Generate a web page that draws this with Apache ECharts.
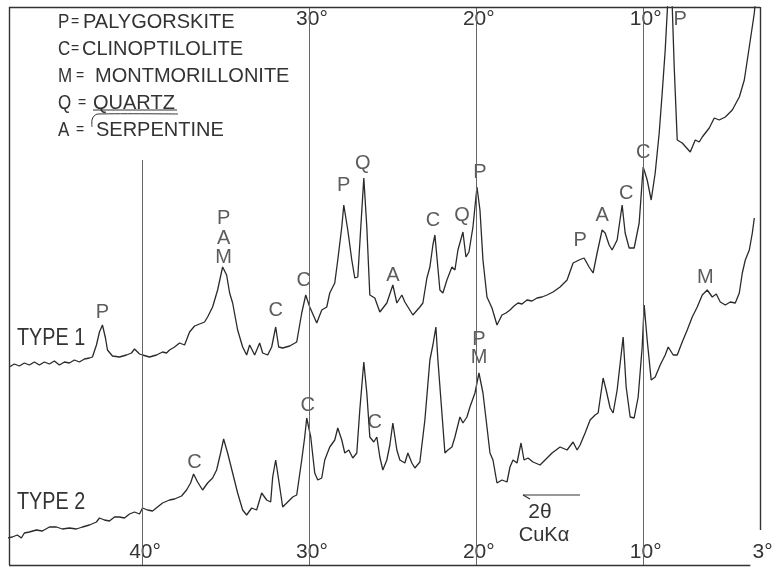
<!DOCTYPE html>
<html><head><meta charset="utf-8">
<script src="https://cdn.jsdelivr.net/npm/echarts@6/dist/echarts.min.js"></script>
<style>html,body{margin:0;padding:0;background:#fff}#c{width:772px;height:567px}</style>
</head><body><div id="c"></div>
<script>
// 2-theta (degrees) , relative intensity
const type1 = [
[47.98,198],[47.68,201],[47.38,199],[47.08,202],[46.78,200],[46.48,203],[46.18,200],[45.88,203],[45.58,201],[45.28,204],[44.98,200],[44.68,203],[44.38,202],[44.08,205],[43.78,203],[43.48,206],[43.18,207],[43.00,208],[42.76,220],[42.58,233],[42.40,240],[42.22,227],[42.10,215],[41.80,209],[41.38,208],[40.96,210],[40.66,212],[40.48,216],[40.18,211],[40.00,210],[39.58,208],[39.16,210],[38.80,213],[38.56,212],[38.38,215],[38.08,218],[37.78,222],[37.48,220],[37.18,233],[36.88,239],[36.58,241],[36.28,243],[36.10,248],[35.80,258],[35.50,275],[35.20,298],[34.96,290],[34.78,272],[34.60,262],[34.30,235],[34.00,218],[33.76,210],[33.58,220],[33.28,210],[32.98,222],[32.80,212],[32.50,210],[32.26,218],[32.02,238],[31.84,218],[31.60,217],[31.18,219],[30.76,223],[30.46,252],[30.22,270],[29.98,258],[29.56,242],[29.26,255],[28.96,258],[28.78,272],[28.48,282],[28.30,305],[28.06,338],[27.94,360],[27.70,335],[27.46,305],[27.28,287],[27.10,288],[26.92,338],[26.74,387],[26.56,338],[26.38,270],[26.08,267],[25.78,253],[25.36,262],[25.00,280],[24.76,262],[24.46,270],[24.28,263],[23.80,250],[23.38,258],[23.20,262],[22.96,287],[22.78,298],[22.60,320],[22.48,330],[22.36,308],[22.18,275],[22.00,272],[21.76,285],[21.46,298],[21.28,295],[21.10,315],[20.80,333],[20.62,308],[20.44,313],[20.20,338],[19.96,378],[19.78,355],[19.60,305],[19.36,268],[19.06,257],[18.76,240],[18.46,250],[18.22,252],[17.98,255],[17.74,259],[17.50,262],[17.26,261],[16.96,265],[16.66,264],[16.36,267],[16.06,268],[15.76,270],[15.40,273],[14.98,278],[14.56,285],[14.20,302],[13.84,305],[13.54,307],[13.24,298],[13.00,292],[12.76,312],[12.46,335],[12.28,332],[12.04,320],[11.86,315],[11.56,325],[11.26,360],[11.08,332],[10.84,317],[10.54,317],[10.24,342],[10.00,398],[9.76,385],[9.52,365],[9.28,392],[9.04,432],[8.86,472],[8.68,515],[8.44,590],[8.32,590],[8.14,498],[7.96,425],[7.66,422],[7.18,413],[6.88,425],[6.64,423],[6.46,428],[6.04,437],[5.74,447],[5.44,445],[5.08,448],[4.66,455],[4.24,468],[3.94,485],[3.76,505],[3.58,525],[3.34,552],[3.22,575]
];
const type2 = [
[48.10,27],[47.80,28],[47.50,30],[47.26,27],[47.08,32],[46.78,33],[46.36,35],[46.00,34],[45.58,38],[45.16,38],[44.80,36],[44.38,37],[43.96,36],[43.60,38],[43.18,40],[42.76,43],[42.58,47],[42.28,45],[41.98,44],[41.68,48],[41.38,48],[41.08,47],[40.78,51],[40.48,53],[40.18,51],[40.00,57],[39.70,55],[39.40,54],[39.10,58],[38.80,62],[38.38,65],[38.08,66],[37.66,69],[37.36,75],[37.12,82],[36.94,91],[36.70,83],[36.40,75],[36.10,82],[35.80,87],[35.56,95],[35.32,112],[35.14,126],[34.90,112],[34.60,92],[34.30,72],[34.00,55],[33.76,50],[33.46,57],[33.16,55],[32.86,72],[32.56,65],[32.32,63],[32.20,88],[32.02,105],[31.84,85],[31.60,58],[31.30,63],[31.00,68],[30.76,70],[30.46,105],[30.28,128],[30.16,147],[29.92,128],[29.68,92],[29.50,85],[29.26,87],[29.08,105],[28.78,118],[28.48,125],[28.30,137],[28.06,125],[27.88,112],[27.64,115],[27.40,107],[27.16,112],[26.98,155],[26.74,203],[26.56,172],[26.38,128],[26.14,123],[25.96,128],[25.78,108],[25.60,95],[25.36,105],[25.18,120],[25.00,142],[24.76,115],[24.58,105],[24.28,102],[24.10,112],[23.86,102],[23.68,97],[23.38,103],[23.08,145],[22.78,205],[22.60,220],[22.42,238],[22.30,205],[22.06,152],[21.88,112],[21.70,115],[21.46,118],[21.28,128],[20.98,148],[20.80,142],[20.56,148],[20.38,158],[20.08,172],[19.84,192],[19.60,172],[19.36,138],[19.18,112],[19.00,105],[18.76,82],[18.46,85],[18.16,83],[17.98,98],[17.80,105],[17.56,102],[17.32,122],[17.14,105],[16.90,107],[16.60,103],[16.18,100],[15.88,105],[15.46,112],[14.98,118],[14.56,115],[14.20,123],[13.96,115],[13.78,120],[13.48,132],[13.18,145],[12.88,150],[12.70,152],[12.40,187],[12.22,175],[11.98,157],[11.80,152],[11.56,175],[11.20,228],[11.02,178],[10.78,148],[10.54,147],[10.30,168],[10.06,218],[9.94,260],[9.76,225],[9.52,185],[9.28,188],[8.98,200],[8.68,210],[8.50,218],[8.20,210],[7.96,210],[7.66,223],[7.36,235],[7.06,248],[6.76,258],[6.46,270],[6.16,275],[5.86,268],[5.62,271],[5.38,263],[5.08,260],[4.78,263],[4.48,262],[4.24,272],[4.06,292],[3.88,305],[3.64,315],[3.46,332],[3.34,347]
];
// peak identification letters: [2theta, intensity, letter]
const peakLabels = [
[42.40,253,'P'],[35.14,347,'P'],[35.14,327,'A'],[35.14,308,'M'],[32.02,255,'C'],[30.34,285,'C'],
[27.94,380,'P'],[26.80,402,'Q'],[25.00,290,'A'],[22.60,345,'C'],[20.86,350,'Q'],[19.78,393,'P'],
[13.78,325,'P'],[12.46,350,'A'],[11.02,372,'C'],[10.00,413,'C'],[7.78,546,'P'],
[36.88,103,'C'],[30.10,160,'C'],[26.08,143,'C'],[19.84,226,'P'],[19.84,208,'M'],[6.28,288,'M']
];
const bottomTicks = [40,30,20,10,3];
const topTicks = [30,20,10];
const legendRows = [
  ['P','PALYGORSKITE'],['C','CLINOPTILOLITE'],['M','MONTMORILLONITE'],['Q','QUARTZ'],['A','SERPENTINE']
];
const traceNames = ['TYPE 1','TYPE 2'];

const FONT = '"Liberation Sans", Arial, sans-serif';
const INK = '#333';
const chart = echarts.init(document.getElementById('c'));

const legendLayout = [ // x of letter, '=', word ; y centre
  [58,71,83,22],[58,71,82,49],[58,76,95,76],[58,78,93,103],[58,76,96,130]
];
const graphic = [];
legendRows.forEach((r,i)=>{
  const L = legendLayout[i];
  graphic.push({type:'text',x:L[0],y:L[3],scaleX:0.85,style:{text:r[0],font:'20px '+FONT,fill:INK,verticalAlign:'middle'}});
  graphic.push({type:'text',x:L[1],y:L[3],style:{text:'=',font:'14px '+FONT,fill:INK,verticalAlign:'middle'}});
  graphic.push({type:'text',x:L[2],y:L[3],style:{text:r[1],font:'20px '+FONT,fill:INK,verticalAlign:'middle'}});
});
graphic.push({type:'polyline',shape:{points:[[93,110],[177,110]]},style:{stroke:INK,lineWidth:1.2}});
graphic.push({type:'polyline',shape:{points:[[178,114],[98,114],[94,116],[92,120],[92,127]],smooth:0.3},style:{stroke:INK,lineWidth:1,fill:null}});
graphic.push({type:'text',x:17,y:339,scaleX:0.86,style:{text:traceNames[0],font:'23px '+FONT,fill:INK,verticalAlign:'middle'}});
graphic.push({type:'text',x:17,y:503,scaleX:0.86,style:{text:traceNames[1],font:'23px '+FONT,fill:INK,verticalAlign:'middle'}});
graphic.push({type:'polyline',shape:{points:[[523,495],[580,495]]},style:{stroke:INK,lineWidth:1.2}});
graphic.push({type:'polyline',shape:{points:[[523,495],[530,499]]},style:{stroke:INK,lineWidth:1.2}});
graphic.push({type:'text',x:540,y:512,style:{text:'2θ',font:'21px '+FONT,fill:INK,align:'center',verticalAlign:'middle'}});
graphic.push({type:'text',x:544,y:535,style:{text:'CuKα',font:'20px '+FONT,fill:INK,align:'center',verticalAlign:'middle'}});

const seg = (a,b,style)=>[{coord:a,lineStyle:style},{coord:b}];
const gridStyle = {color:'#666',width:1,type:'solid'};
const frameStyle = {color:INK,width:1.4,type:'solid'};
const markLines = [
  seg([40,0],[40,405],gridStyle), seg([30,0],[30,558],gridStyle),
  seg([20,0],[20,558],gridStyle), seg([10,0],[10,558],gridStyle),
  seg([48,0],[48,558],frameStyle), seg([48,558],[3,558],frameStyle),
  seg([3,558],[3,35],frameStyle), seg([48,0],[3.58,0],frameStyle)
];

const lbl = (ticks)=>({inside:true,margin:2,customValues:ticks,formatter:v=>v+'°',fontSize:21,color:INK,fontFamily:FONT,padding:[0,0,0,5],showMinLabel:true,showMaxLabel:true});

chart.setOption({
  animation:false,
  grid:{left:9,right:12,top:7,bottom:2,containLabel:false,outerBoundsMode:'none'},
  xAxis:[
    {type:'value',min:3,max:48,inverse:true,position:'bottom',axisLine:{show:false},axisTick:{show:false},splitLine:{show:false},axisLabel:lbl(bottomTicks)},
    {type:'value',min:3,max:48,inverse:true,position:'top',axisLine:{show:false},axisTick:{show:false},splitLine:{show:false},axisLabel:lbl(topTicks)}
  ],
  yAxis:{type:'value',min:0,max:558,show:false},
  graphic:graphic,
  series:[
    {type:'line',name:'frame',data:[],silent:true,clip:false,
     markLine:{silent:true,symbol:['none','none'],label:{show:false},emphasis:{disabled:true},animation:false,data:markLines}},
    {type:'line',name:traceNames[0],data:type1,symbol:'none',clip:true,lineStyle:{color:'#2a2a2a',width:1.3},z:3},
    {type:'line',name:traceNames[1],data:type2,symbol:'none',clip:true,lineStyle:{color:'#2a2a2a',width:1.3},z:3},
    {type:'scatter',name:'peaks',data:peakLabels.map(p=>({value:[p[0],p[1]],name:p[2]})),symbolSize:0,silent:true,clip:false,
     label:{show:true,position:'inside',formatter:p=>p.name,fontSize:20,color:INK,fontFamily:FONT}}
  ]
});
</script></body></html>
